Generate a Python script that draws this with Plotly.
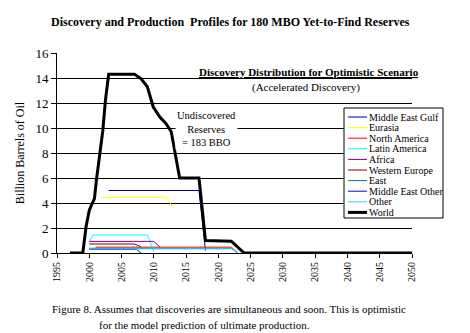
import plotly.graph_objects as go

# ---- data ----
world_years = [1997, 1999, 1999.5, 2000, 2000.4, 2000.8, 2001.1, 2001.6, 2002.1, 2002.5, 2003,
               2007, 2008, 2009, 2009.9, 2010.9, 2011.9, 2012.7, 2013.2, 2014, 2017, 2017.4,
               2018, 2022, 2023, 2024, 2050]
world_vals = [0, 0, 2.1, 3.4, 3.9, 4.35, 5.8, 7.7, 9.8, 12.2, 14.3,
              14.3, 13.95, 13.3, 11.7, 10.9, 10.35, 9.7, 8.2, 6.0, 6.0, 4.2,
              1.0, 0.95, 0.5, 0, 0]

meg_years = [2003, 2017, 2018]
meg_vals = [5.0, 5.0, 0.2]

eurasia_years = [2002, 2012, 2013]
eurasia_vals = [4.45, 4.45, 3.6]

na_years = [2001, 2022, 2023]
na_vals = [0.47, 0.47, 0.0]

latam_years = [2000, 2000.6, 2009, 2010]
latam_vals = [0.9, 1.45, 1.45, 0.1]

africa_years = [2000, 2010, 2011]
africa_vals = [0.93, 0.93, 0.45]

weur_years = [2000, 2007, 2008]
weur_vals = [0.72, 0.72, 0.5]

east_years = [2000, 2022, 2023]
east_vals = [0.38, 0.38, 0.0]

meo_years = [2000, 2007.3, 2008]
meo_vals = [0.3, 0.3, 0.0]

other_years = [2000, 2022.2, 2023]
other_vals = [0.33, 0.33, 0.0]

series = [
    ("Middle East Gulf", meg_years, meg_vals, "#000080", 1),
    ("Eurasia", eurasia_years, eurasia_vals, "#FFFF00", 1),
    ("North America", na_years, na_vals, "#FF0000", 1),
    ("Latin America", latam_years, latam_vals, "#00FFFF", 1),
    ("Africa", africa_years, africa_vals, "#800080", 1),
    ("Western Europe", weur_years, weur_vals, "#800000", 1),
    ("East", east_years, east_vals, "#008080", 1),
    ("Middle East Other", meo_years, meo_vals, "#0000FF", 1),
    ("Other", other_years, other_vals, "#33CCFF", 1),
    ("World", world_years, world_vals, "#000000", 3),
]

y_ticks = [0, 2, 4, 6, 8, 10, 12, 14, 16]
x_ticks = list(range(1995, 2051, 5))

FONT = "Liberation Serif, Times New Roman, Tinos, DejaVu Serif, serif"
W, H = 470, 333
L, R, T, B = 57, 58, 53, 80
PW, PH = W - L - R, H - T - B


def px(x):
    return (x - L) / PW


def py(y):
    return (H - B - y) / PH


fig = go.Figure()
for name, xs, ys, col, wd in series:
    fig.add_trace(go.Scatter(x=xs, y=ys, mode="lines", name=name,
                             line=dict(color=col, width=wd), showlegend=False))

fig.update_layout(
    width=W, height=H,
    margin=dict(l=L, r=R, t=T, b=B),
    paper_bgcolor="white", plot_bgcolor="white",
    font=dict(family=FONT, color="black", size=11),
    showlegend=False,
)
fig.update_xaxes(range=[1995, 2050], tickvals=x_ticks, ticktext=[str(v) for v in x_ticks],
                 tickangle=-90, ticks="outside", ticklen=4, tickcolor="black",
                 showgrid=False, zeroline=False, showline=True, linecolor="black",
                 linewidth=1, tickfont=dict(size=10, family=FONT))
fig.update_yaxes(range=[0, 16], tickvals=y_ticks, ticks="outside", ticklen=5, tickcolor="black",
                 showgrid=True, gridcolor="black", gridwidth=1, zeroline=False,
                 showline=True, linecolor="black", linewidth=1,
                 tickfont=dict(size=13, family=FONT),
                 title=dict(text="Billion Barrels of Oil", font=dict(size=12, family=FONT), standoff=8))

ann = []
ann.append(dict(text="<b>Discovery and Production  Profiles for 180 MBO Yet-to-Find Reserves</b>",
                x=px(230), y=py(22), xref="paper", yref="paper", showarrow=False,
                font=dict(size=12, family=FONT), xanchor="center", yanchor="middle"))
ann.append(dict(text="<b><span style='text-decoration:underline'>Discovery Distribution for Optimistic Scenario</span></b>",
                x=px(421), y=py(72), xref="paper", yref="paper", showarrow=False,
                font=dict(size=11, family=FONT), xanchor="right", yanchor="middle"))
ann.append(dict(text="(Accelerated Discovery)",
                x=px(306), y=py(87), xref="paper", yref="paper", showarrow=False,
                font=dict(size=11, family=FONT), xanchor="center", yanchor="middle"))
ann.append(dict(text="Undiscovered<br>Reserves<br>= 183 BBO",
                x=px(206), y=py(129), xref="paper", yref="paper", showarrow=False,
                font=dict(size=10.5, family=FONT), xanchor="center", yanchor="middle",
                bgcolor="white", borderpad=1))
ann.append(dict(text="Figure 8. Assumes that discoveries are simultaneous and soon. This is optimistic",
                x=px(50), y=py(309), xref="paper", yref="paper", showarrow=False,
                font=dict(size=11, family=FONT), xanchor="left", yanchor="middle"))
ann.append(dict(text="for the model prediction of ultimate production.",
                x=px(97), y=py(325), xref="paper", yref="paper", showarrow=False,
                font=dict(size=11, family=FONT), xanchor="left", yanchor="middle"))

shapes = []
# manual legend
lx0, lx1, ly0, ly1 = 344, 443, 108, 218
shapes.append(dict(type="rect", xref="paper", yref="paper", x0=px(lx0), x1=px(lx1),
                   y0=py(ly1), y1=py(ly0), line=dict(color="black", width=1), fillcolor="white",
                   layer="above"))
row0, dy = 117, 10.6
for i, (name, xs, ys, col, wd) in enumerate(series):
    yy = row0 + i * dy
    shapes.append(dict(type="line", xref="paper", yref="paper", x0=px(348), x1=px(367),
                       y0=py(yy), y1=py(yy), line=dict(color=col, width=wd), layer="above"))
    ann.append(dict(text=name, x=px(368), y=py(yy), xref="paper", yref="paper", showarrow=False,
                    font=dict(size=10, family=FONT), xanchor="left", yanchor="middle", borderpad=0))

fig.update_layout(annotations=ann, shapes=shapes)
fig.write_html("out.html")
